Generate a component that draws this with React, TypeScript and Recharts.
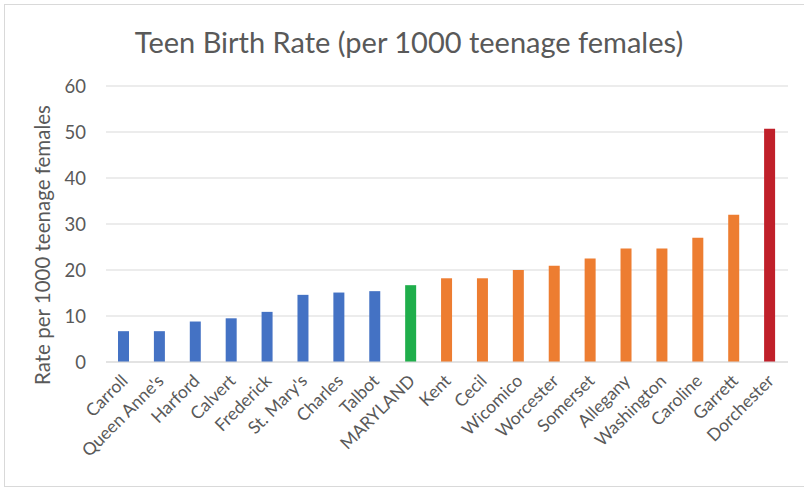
import { BarChart, Bar, XAxis, YAxis, CartesianGrid, Cell } from "recharts";

const counties = [
  "Carroll",
  "Queen Anne's",
  "Harford",
  "Calvert",
  "Frederick",
  "St. Mary's",
  "Charles",
  "Talbot",
  "MARYLAND",
  "Kent",
  "Cecil",
  "Wicomico",
  "Worcester",
  "Somerset",
  "Allegany",
  "Washington",
  "Caroline",
  "Garrett",
  "Dorchester",
];

const rates = [6.7, 6.7, 8.8, 9.5, 10.9, 14.6, 15.1, 15.4, 16.7, 18.2, 18.2, 20.0, 20.9, 22.5, 24.7, 24.7, 27.0, 32.0, 50.7];

// colour group per county: low / state / above state / highest
const groups = ["low", "low", "low", "low", "low", "low", "low", "low", "state", "high", "high", "high", "high", "high", "high", "high", "high", "high", "top"];

const yTicks = [0, 10, 20, 30, 40, 50, 60];

const groupColors: Record<string, string> = {
  low: "#4472c4",
  state: "#1fae4b",
  high: "#ed7d31",
  top: "#c0202a",
};

const data = counties.map((name, i) => ({ name, rate: rates[i], group: groups[i] }));

const FONT = "Lato, 'Open Sans', sans-serif";

function CountyTick(props: any) {
  const { x, y, payload } = props;
  return (
    <text
      x={x + 5}
      y={y + 12}
      textAnchor="end"
      transform={`rotate(-45 ${x + 5} ${y + 12})`}
      fontSize={17.5}
      fill="#595959"
      fontFamily={FONT}
    >
      {payload.value}
    </text>
  );
}

export default function App() {
  return (
    <div
      style={{
        position: "absolute",
        left: 0,
        top: 0,
        width: 804,
        height: 487,
        background: "#fff",
        fontFamily: FONT,
        overflow: "hidden",
      }}
    >
      <div
        style={{
          position: "absolute",
          left: 4,
          top: 4,
          width: 820,
          height: 481,
          border: "1px solid #d9d9d9",
        }}
      />
      <div
        style={{
          position: "absolute",
          left: 0,
          width: 818,
          top: 24,
          textAlign: "center",
          fontSize: 29,
          color: "#595959",
        }}
      >
        Teen Birth Rate (per 1000 teenage females)
      </div>
      <div
        style={{
          position: "absolute",
          left: 42,
          top: 245,
          transform: "translate(-50%, -50%) rotate(-90deg)",
          whiteSpace: "nowrap",
          fontSize: 20.5,
          color: "#595959",
        }}
      >
        Rate per 1000 teenage females
      </div>
      <div style={{ position: "absolute", left: 0, top: 0 }}>
        <BarChart
          width={804}
          height={487}
          data={data}
          margin={{ top: 86, right: 16, bottom: 0, left: 56 }}
          barSize={11}
        >
          <CartesianGrid vertical={false} stroke="#d9d9d9" strokeWidth={1.2} />
          <XAxis
            dataKey="name"
            interval={0}
            tick={<CountyTick />}
            tickLine={false}
            axisLine={{ stroke: "#d9d9d9", strokeWidth: 1.2 }}
            height={125}
          />
          <YAxis
            domain={[0, 60]}
            ticks={yTicks}
            width={50}
            tickLine={false}
            axisLine={false}
            tick={{ fontSize: 18.5, fill: "#595959", fontFamily: FONT }}
            tickMargin={14}
          />
          <Bar dataKey="rate" isAnimationActive={false}>
            {data.map((d) => (
              <Cell key={d.name} fill={groupColors[d.group]} />
            ))}
          </Bar>
        </BarChart>
      </div>
    </div>
  );
}
